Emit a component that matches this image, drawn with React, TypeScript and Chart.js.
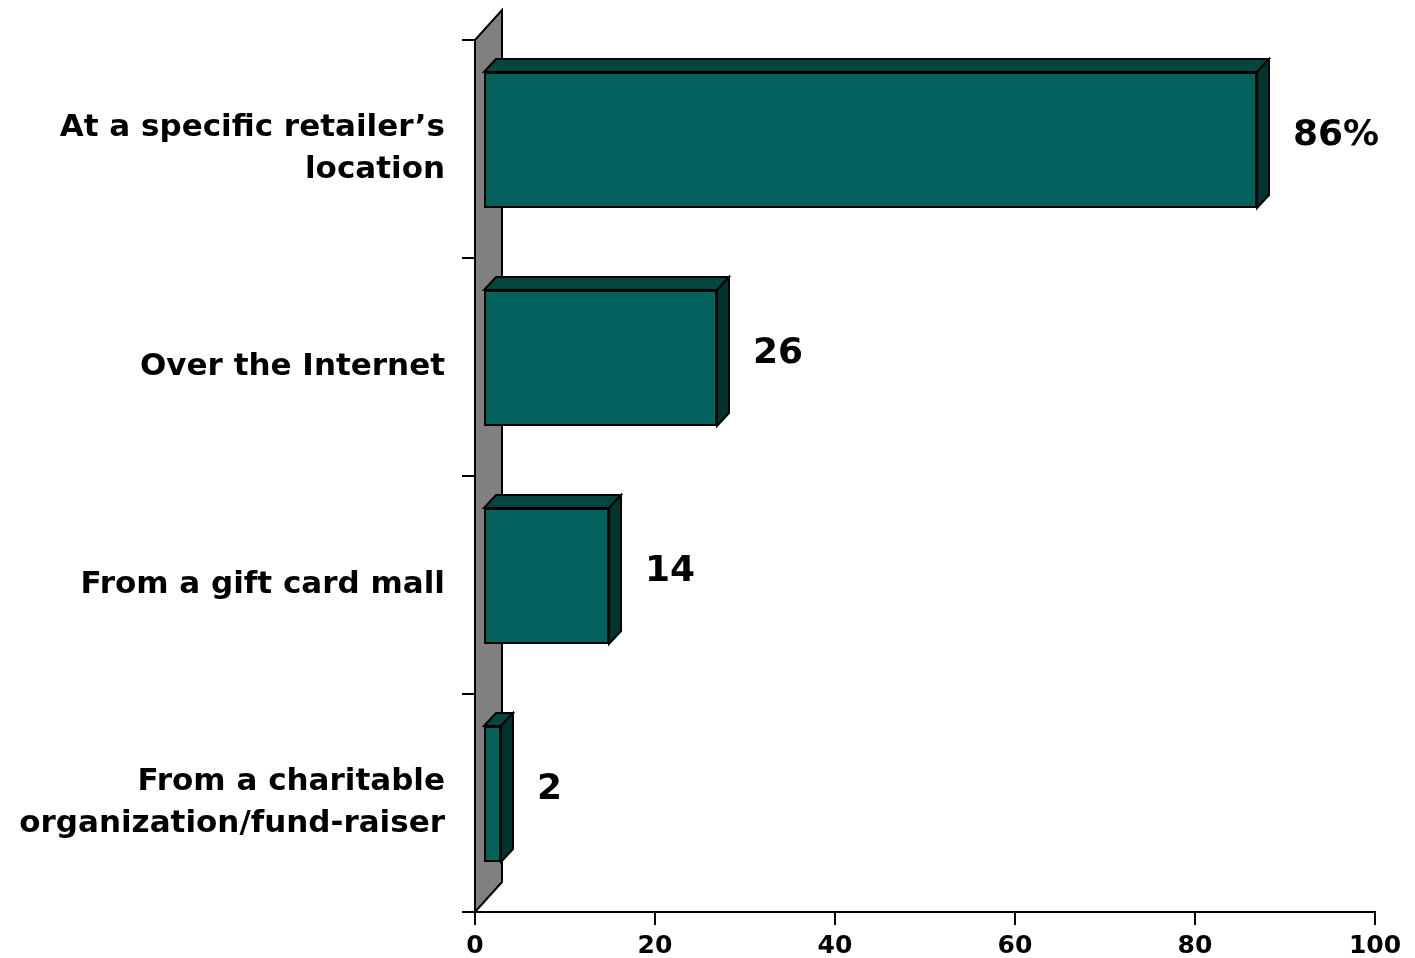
import React, { useEffect, useRef } from "react";
import { Chart, registerables } from "chart.js";

Chart.register(...registerables);

const categories: (string | string[])[] = [
  ["At a specific retailer’s", "location"],
  "Over the Internet",
  "From a gift card mall",
  ["From a charitable", "organization/fund-raiser"],
];
const values = [86, 26, 14, 2];
const valueLabels = ["86%", "26", "14", "2"];
const xMin = 0;
const xMax = 100;
const xStep = 20;

const FONT = "'DejaVu Sans', Verdana, sans-serif";
const FRONT = "#02615A";
const TOP = "#03463F";
const SIDE = "#02342F";
const WALL = "#808080";

// 3D geometry
const WALL_DX = 27;
const WALL_DY = -30;
const BAR_SHIFT_X = 8;
const BAR_SHIFT_Y = -9;
const BAR_DX = 12;
const BAR_DY = -13;

const threeD = {
  id: "threeD",
  beforeDatasetsDraw(chart: any) {
    const ctx = chart.ctx;
    const a = chart.chartArea;
    ctx.save();
    ctx.lineWidth = 2;
    ctx.strokeStyle = "#000";
    ctx.lineJoin = "miter";
    // back wall
    ctx.beginPath();
    ctx.moveTo(a.left, a.top);
    ctx.lineTo(a.left + WALL_DX, a.top + WALL_DY);
    ctx.lineTo(a.left + WALL_DX, a.bottom + WALL_DY);
    ctx.lineTo(a.left, a.bottom);
    ctx.closePath();
    ctx.fillStyle = WALL;
    ctx.fill();
    ctx.stroke();
    // bar top and side faces
    const meta = chart.getDatasetMeta(0);
    meta.data.forEach((el: any) => {
      const L = el.base + BAR_SHIFT_X;
      const R = el.x + BAR_SHIFT_X;
      const T = el.y - el.height / 2 + BAR_SHIFT_Y;
      const B = el.y + el.height / 2 + BAR_SHIFT_Y;
      ctx.beginPath();
      ctx.moveTo(L, T);
      ctx.lineTo(L + BAR_DX, T + BAR_DY);
      ctx.lineTo(R + BAR_DX, T + BAR_DY);
      ctx.lineTo(R, T);
      ctx.closePath();
      ctx.fillStyle = TOP;
      ctx.fill();
      ctx.stroke();
      ctx.beginPath();
      ctx.moveTo(R, T);
      ctx.lineTo(R + BAR_DX, T + BAR_DY);
      ctx.lineTo(R + BAR_DX, B + BAR_DY);
      ctx.lineTo(R, B);
      ctx.closePath();
      ctx.fillStyle = SIDE;
      ctx.fill();
      ctx.stroke();
    });
    ctx.restore();
    // shift the front faces drawn by Chart.js
    ctx.save();
    ctx.translate(BAR_SHIFT_X, BAR_SHIFT_Y);
  },
  afterDatasetsDraw(chart: any) {
    const ctx = chart.ctx;
    ctx.restore();
    const meta = chart.getDatasetMeta(0);
    ctx.save();
    ctx.fillStyle = "#000";
    ctx.font = `bold 36px ${FONT}`;
    ctx.textAlign = "left";
    ctx.textBaseline = "middle";
    meta.data.forEach((el: any, i: number) => {
      const x = el.x + BAR_SHIFT_X + BAR_DX + 24;
      const y = el.y + BAR_SHIFT_Y - 4;
      ctx.fillText(valueLabels[i], x, y);
    });
    ctx.restore();
  },
};

export default function App() {
  const ref = useRef<HTMLCanvasElement | null>(null);
  useEffect(() => {
    if (!ref.current) return;
    const chart = new Chart(ref.current, {
      type: "bar",
      data: {
        labels: categories,
        datasets: [
          {
            data: values,
            backgroundColor: FRONT,
            borderColor: "#000",
            borderWidth: 2,
            borderSkipped: false,
            categoryPercentage: 0.8,
            barPercentage: 0.78,
          },
        ],
      },
      options: {
        indexAxis: "y",
        responsive: false,
        animation: false,
        devicePixelRatio: 1,
        layout: { padding: { top: 40, right: 40, left: 0, bottom: 0 } },
        plugins: { legend: { display: false }, tooltip: { enabled: false } },
        scales: {
          x: {
            min: xMin,
            max: xMax,
            ticks: {
              stepSize: xStep,
              color: "#000",
              padding: 6,
              font: { family: FONT, size: 25, weight: "bold" },
            },
            grid: {
              drawOnChartArea: false,
              drawTicks: true,
              tickLength: 13,
              color: "#000",
              lineWidth: 2,
            },
            border: { display: true, color: "#000", width: 2 },
            afterFit: (s: any) => {
              s.height = 46;
              s.paddingLeft = 0;
              s.paddingRight = 0;
            },
          },
          y: {
            grid: {
              offset: true,
              drawOnChartArea: false,
              drawTicks: true,
              tickLength: 13,
              color: "#000",
              lineWidth: 2,
            },
            border: { display: true, color: "#000", width: 2 },
            ticks: {
              color: "#000",
              padding: 17,
              font: { family: FONT, size: 31, weight: "bold", lineHeight: 1.35 },
            },
            afterFit: (s: any) => {
              s.width = 475;
              s.paddingTop = 0;
              s.paddingBottom = 0;
            },
          },
        },
      },
      plugins: [threeD],
    });
    return () => chart.destroy();
  }, []);
  return (
    <div style={{ position: "absolute", left: 0, top: 0, width: 1415, height: 958, background: "#fff" }}>
      <canvas ref={ref} width={1415} height={958} style={{ display: "block" }} />
    </div>
  );
}
